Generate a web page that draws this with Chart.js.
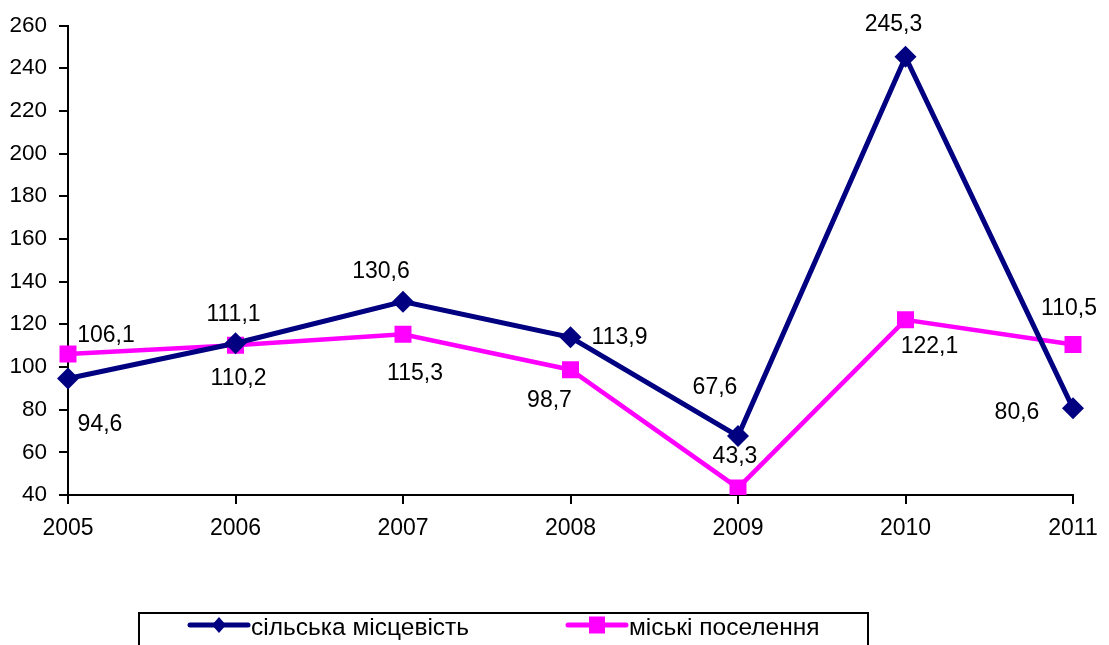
<!DOCTYPE html>
<html>
<head>
<meta charset="utf-8">
<script src="https://cdn.jsdelivr.net/npm/chart.js@4/dist/chart.umd.min.js"></script>
<style>
  html, body { margin: 0; padding: 0; background: #fff; }
  #wrap { width: 1109px; height: 645px; overflow: hidden; }
</style>
</head>
<body>
<div id="wrap"><canvas id="chart" width="1109" height="645"></canvas></div>
<script>
// values
const years = ["2005", "2006", "2007", "2008", "2009", "2010", "2011"];
const ruralValues = [94.6, 111.1, 130.6, 113.9, 67.6, 245.3, 80.6];
const urbanValues = [106.1, 110.2, 115.3, 98.7, 43.3, 122.1, 110.5];
const seriesNames = ["сільська місцевість", "міські поселення"];
const yMin = 40;
const yMax = 260;
const yStep = 20;

const FONT = "Arial, 'Liberation Sans', sans-serif";
const NAVY = "#000080";
const PINK = "#FF00FF";

// where each value label sits relative to its marker (px)
const labelOffsets = [
  [[32, 46], [-2, -29], [-22, -30], [49, 0], [-23, -48], [-12, -32], [-56, 4]],
  [[38, -18], [3, 33], [12, 39], [-21, 31], [-3, -31], [24, 27], [-4, -36]]
];

function fmt(v) {
  return v.toFixed(1).replace(".", ",");
}

const valueLabels = {
  id: "valueLabels",
  afterDatasetsDraw(chart) {
    const ctx = chart.ctx;
    ctx.save();
    ctx.font = "23px " + FONT;
    ctx.fillStyle = "#000";
    ctx.textAlign = "center";
    ctx.textBaseline = "middle";
    chart.data.datasets.forEach((ds, i) => {
      const meta = chart.getDatasetMeta(i);
      meta.data.forEach((pt, j) => {
        const off = labelOffsets[i][j];
        ctx.fillText(fmt(ds.data[j]), pt.x + off[0], pt.y + off[1]);
      });
    });
    ctx.restore();
  }
};

function drawMarker(ctx, style, x, y, color) {
  ctx.fillStyle = color;
  ctx.beginPath();
  if (style === "rectRot") {
    ctx.moveTo(x, y - 8);
    ctx.lineTo(x + 7, y);
    ctx.lineTo(x, y + 8);
    ctx.lineTo(x - 7, y);
  } else {
    ctx.rect(x - 8, y - 8.5, 16, 17);
  }
  ctx.closePath();
  ctx.fill();
}

const boxLegend = {
  id: "boxLegend",
  afterDraw(chart) {
    const ctx = chart.ctx;
    const left = 139, top = 613, w = 729, h = 60;
    ctx.save();
    ctx.strokeStyle = "#000";
    ctx.lineWidth = 2;
    ctx.strokeRect(left, top, w, h);
    const starts = [left + 51, left + 429];
    const cy = 625;
    ctx.font = "24.5px " + FONT;
    ctx.textBaseline = "middle";
    ctx.textAlign = "left";
    chart.data.datasets.forEach((ds, i) => {
      const x0 = starts[i];
      ctx.strokeStyle = ds.borderColor;
      ctx.lineWidth = 5;
      ctx.lineCap = "round";
      ctx.beginPath();
      ctx.moveTo(x0, cy);
      ctx.lineTo(x0 + 58, cy);
      ctx.stroke();
      drawMarker(ctx, ds.pointStyle, x0 + 29, cy, ds.borderColor);
      ctx.fillStyle = "#000";
      ctx.fillText(ds.label, x0 + 61, cy + 3);
    });
    ctx.restore();
  }
};

new Chart(document.getElementById("chart"), {
  type: "line",
  data: {
    labels: years,
    datasets: [
      {
        label: seriesNames[0],
        data: ruralValues,
        borderColor: NAVY,
        backgroundColor: NAVY,
        borderWidth: 5,
        pointStyle: "rectRot",
        pointRadius: 11,
        pointHoverRadius: 11,
        pointBorderWidth: 0,
        tension: 0
      },
      {
        label: seriesNames[1],
        data: urbanValues,
        borderColor: PINK,
        backgroundColor: PINK,
        borderWidth: 4.5,
        pointStyle: "rect",
        pointRadius: 12,
        pointHoverRadius: 12,
        pointBorderWidth: 0,
        tension: 0
      }
    ]
  },
  options: {
    responsive: false,
    animation: false,
    layout: { padding: { top: 22, right: 36, bottom: 90, left: 0 } },
    plugins: {
      legend: { display: false },
      tooltip: { enabled: false }
    },
    scales: {
      x: {
        offset: false,
        grid: {
          drawOnChartArea: false,
          color: "#000",
          tickColor: "#000",
          lineWidth: 2,
          tickLength: 9
        },
        border: { color: "#000", width: 2 },
        ticks: {
          color: "#000",
          font: { family: FONT, size: 23 },
          padding: 11,
          maxRotation: 0
        },
        afterFit(scale) { scale.height = 60; }
      },
      y: {
        min: yMin,
        max: yMax,
        grid: {
          drawOnChartArea: false,
          color: "#000",
          tickColor: "#000",
          lineWidth: 2,
          tickLength: 9
        },
        border: { color: "#000", width: 2 },
        ticks: {
          stepSize: yStep,
          color: "#000",
          font: { family: FONT, size: 22.5 },
          padding: 12
        },
        afterFit(scale) { scale.width = 68; }
      }
    }
  },
  plugins: [valueLabels, boxLegend]
});
</script>
</body>
</html>
